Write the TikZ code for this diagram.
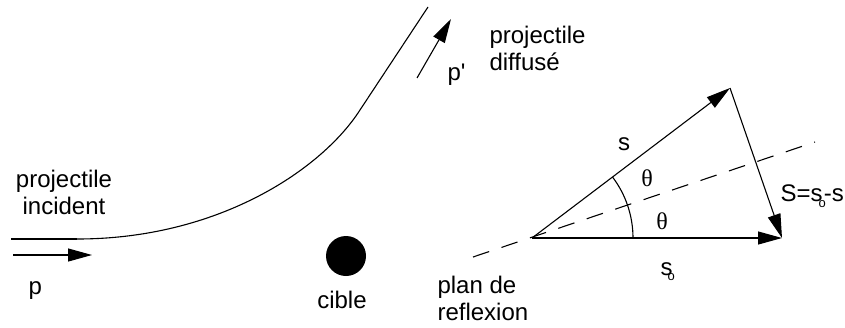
\documentclass[tikz,border=0pt]{standalone}
\usepackage{fontspec}
\setmainfont{Liberation Sans}
\newfontfamily\thetafont{Liberation Serif}
\usetikzlibrary{arrows.meta,angles}
\begin{document}
\begin{tikzpicture}[x=1pt,y=-1pt,
  line width=1.1pt,
  arr/.style={-{Triangle[length=24pt,width=13pt]}},
  lbl/.style={inner sep=0pt,font=\fontsize{24}{27}\selectfont},
  thlbl/.style={inner sep=0pt,font=\fontsize{24}{24}\thetafont},
  dashline/.style={dash pattern=on 17pt off 13pt}]
\useasboundingbox (0,0) rectangle (845,327);
% trajectory
\coordinate (h0) at (11,239);
\coordinate (h1) at (77,239);
\coordinate (j) at (358,113);
\coordinate (t) at (428,7);
\draw[line width=1.8pt] (h0) -- (h1);
\draw (h1) .. controls (217,239) and (319,171) .. (j) -- (t);
% momentum arrows
\coordinate (p0) at (13,255);
\coordinate (p1) at (92,255);
\draw[arr] (p0) -- (p1);
\coordinate (q0) at (417,78);
\coordinate (q1) at (451,19);
\draw[arr] (q0) -- (q1);
% target
\node[circle,fill,minimum size=40pt,inner sep=0pt] (cib) at (346,256) {};
% labels left
\node[lbl,anchor=base,align=center] (inc) at (64,214) {projectile\\incident};
\node[lbl,anchor=base west] (plab) at (28,294) {p};
\node[lbl,anchor=base west] (pplab) at (447,80) {p\textquotesingle};
\node[lbl,anchor=base west,align=left] (dif) at (489,70) {projectile\\diffusé};
\node[lbl,anchor=base] (ciblab) at (342,308) {cible};
\node[lbl,anchor=base west,align=left] (plan) at (437,320) {plan de\\reflexion};
% vector diagram
\coordinate (O) at (532,238);
\coordinate (A) at (730,88);
\coordinate (B) at (782,238);
\coordinate (d0) at (473,257);
\coordinate (d1) at (815,142);
\draw[arr] (O) -- (A);
\draw[arr] (O) -- (B);
\draw[arr] (A) -- (B);
\draw[dashline] (d0) -- (d1);
\pic[draw,angle radius=101pt] {angle=B--O--A};
\node[thlbl] (th1) at (647,178) {θ};
\node[thlbl] (th2) at (662,221) {θ};
\node[lbl,anchor=base] (slab) at (624,150) {s};
\node[lbl,anchor=base west] (slab0) at (660,275) {s\kern-5pt\raisebox{-5pt}{\fontsize{13}{13}\selectfont o}};
\node[lbl,anchor=base west] (Slab) at (780,201) {S=s\kern-4pt\raisebox{-6pt}{\fontsize{13}{13}\selectfont o}\kern-2pt-s};
\end{tikzpicture}
\end{document}
